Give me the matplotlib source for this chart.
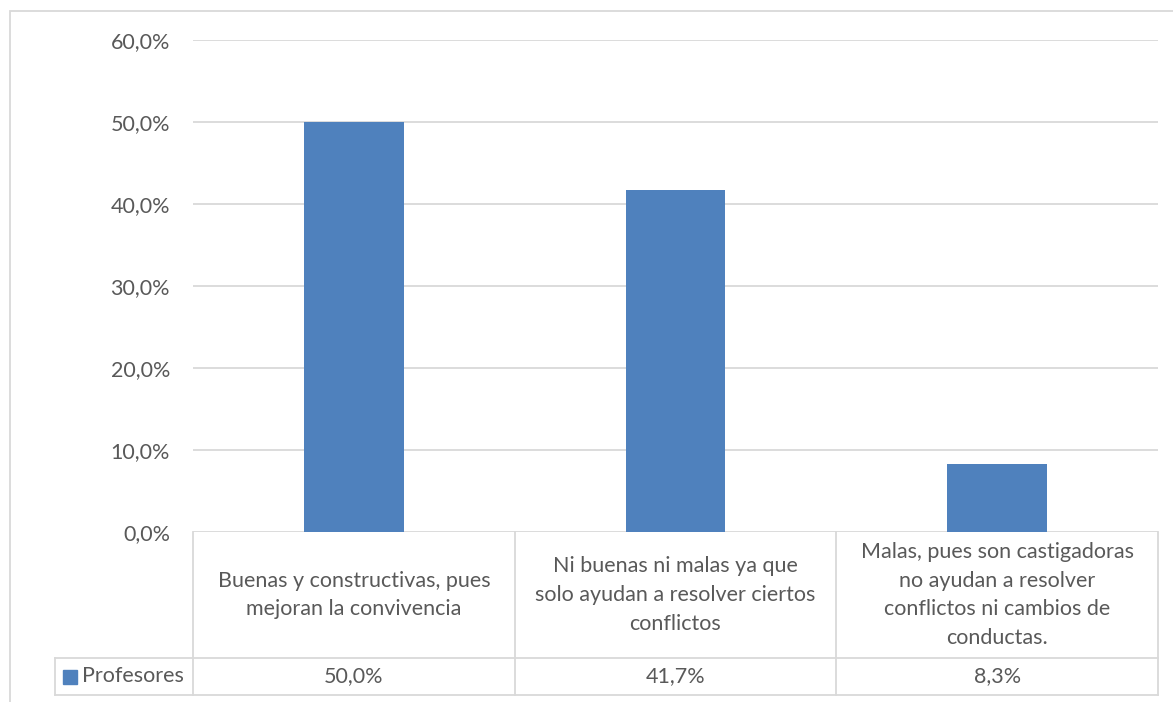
import matplotlib
matplotlib.use("Agg")
import matplotlib.pyplot as plt
from matplotlib.patches import Rectangle
from matplotlib.lines import Line2D

categories = [
    "Buenas y constructivas, pues\nmejoran la convivencia",
    "Ni buenas ni malas ya que\nsolo ayudan a resolver ciertos\nconflictos",
    "Malas, pues son castigadoras\nno ayudan a resolver\nconflictos ni cambios de\nconductas.",
]
values = [50.0, 41.7, 8.3]
series_name = "Profesores"
yticks = [0, 10, 20, 30, 40, 50, 60]

W, H = 1173, 702
plt.rcParams['font.family'] = ['Lato', 'DejaVu Sans']
fig = plt.figure(figsize=(W/100, H/100), dpi=100)
txt = '#595959'
grid = '#d9d9d9'
blue = '#4F81BD'
fs = 15.5

def fx(px): return px / W
def fy(py): return 1 - py / H

ax = fig.add_axes([fx(193), fy(532), fx(1158) - fx(193), fy(40) - fy(532)])
x = list(range(len(values)))
ax.bar(x, values, width=0.31, color=blue, zorder=3)
ax.set_xlim(-0.5, len(values) - 0.5)
ax.set_ylim(0, 60)
ax.set_yticks(yticks)
ax.set_yticklabels([f"{v:.1f}%".replace('.', ',') for v in yticks], color=txt, fontsize=fs)
ax.tick_params(axis='y', length=0, pad=16.5)
ax.set_xticks([])
for s in ax.spines.values():
    s.set_visible(False)
ax.yaxis.grid(True, color=grid, lw=1.3, zorder=0)
ax.set_axisbelow(True)

# data table
tr = ax.get_xaxis_transform()
ph = 532 - 40
y_hdr = -(658 - 532) / ph
y_bot = -(695 - 532) / ph
lc = dict(color=grid, lw=1.3, clip_on=False)
for b in [-0.5, 0.5, 1.5, 2.5]:
    ax.add_line(Line2D([b, b], [0, y_bot], transform=tr, **lc))
ax.add_line(Line2D([-0.5, 2.5], [y_hdr, y_hdr], transform=tr, **lc))
ax.add_line(Line2D([-0.5, 2.5], [y_bot, y_bot], transform=tr, **lc))
fig.add_artist(Line2D([fx(55), fx(193)], [fy(658), fy(658)], color=grid, lw=1.3))
fig.add_artist(Line2D([fx(55), fx(193)], [fy(695), fy(695)], color=grid, lw=1.3))
fig.add_artist(Line2D([fx(55), fx(55)], [fy(658), fy(695)], color=grid, lw=1.3))

for i, (c, v) in enumerate(zip(categories, values)):
    ax.text(i, y_hdr / 2, c, transform=tr, ha='center', va='center',
            fontsize=fs, color=txt, linespacing=1.55)
    ax.text(i, (y_hdr + y_bot) / 2, f"{v:.1f}%".replace('.', ','), transform=tr,
            ha='center', va='center', fontsize=fs, color=txt)

fig.add_artist(Rectangle((fx(63), fy(684)), fx(14), fy(670) - fy(684), color=blue))
fig.text(fx(82), fy(676.5), series_name, ha='left', va='center', fontsize=fs, color=txt)

fig.add_artist(Rectangle((fx(9.5), fy(712)), fx(1180), fy(10.5) - fy(712),
                         fill=False, edgecolor=grid, lw=1.3))

fig.savefig('out.png', dpi=100, facecolor='white')
